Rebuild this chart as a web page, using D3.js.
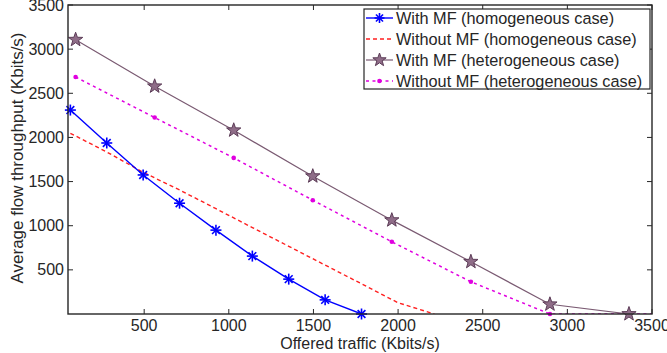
<!DOCTYPE html>
<html><head><meta charset="utf-8">
<script src="https://cdn.jsdelivr.net/npm/d3@7"></script>
<style>body{margin:0;background:#fff}</style></head>
<body><svg id="c" width="667" height="353"></svg>
<script>
// ---- data ----
const homX = [64,279,494,709,924,1139,1354,1569,1784];
const homWithMF = [2310,1937,1575,1255,950,656,395,160,0];
const homX2 = [64,279,494,709,924,1139,1354,1569,1784,1999,2214];
const homWithoutMF = [2047,1835,1605,1405,1193,979,767,554,342,128,0];
const hetX = [95,562,1029,1496,1963,2430,2897,3364];
const hetWithMF = [3107,2579,2081,1561,1063,592,110,0];
const hetX2 = [95,562,1029,1496,1963,2430,2897,3364,3831];
const hetWithoutMF = [2684,2225,1768,1289,818,365,0,0,0];
const xTicks = [500,1000,1500,2000,2500,3000,3500];
const yTicks = [500,1000,1500,2000,2500,3000,3500];
const legendLabels = ["With MF (homogeneous case)","Without MF (homogeneous case)","With MF (heterogeneous case)","Without MF (heterogeneous case)"];
const xLabel = "Offered traffic (Kbits/s)";
const yLabel = "Average flow throughput (Kbits/s)";

const svg = d3.select("#c");
const L=68, R=652, T=5, B=314;
const x = d3.scaleLinear().domain([50,3500]).range([L,R]);
const y = d3.scaleLinear().domain([0,3500]).range([B,T]);
const font = "'Liberation Sans', Arial, Helvetica, sans-serif";
const fsTick = 16, fsLab = 17, fsLeg = 16.3;

svg.append("defs").append("clipPath").attr("id","clip")
  .append("rect").attr("x",L).attr("y",T).attr("width",R-L).attr("height",B-T);

const C = {blue:"#0000ff", red:"#ff2020", star:"#7a5a72", starFill:"#8f6d88", starEdge:"#5c3c57", mag:"#e000e0"};

const g = svg.append("g").attr("clip-path","url(#clip)");
const line = d3.line().x(d=>x(d[0])).y(d=>y(d[1]));
const zip = (a,b)=>a.map((v,i)=>[v,b[i]]);

const sHomW = zip(homX,homWithMF), sHomWo = zip(homX2,homWithoutMF);
const sHetW = zip(hetX,hetWithMF), sHetWo = zip(hetX2,hetWithoutMF);

g.append("path").attr("d",line(sHomWo)).attr("fill","none").attr("stroke",C.red).attr("stroke-width",1.4).attr("stroke-dasharray","4,3");
g.append("path").attr("d",line(sHetWo)).attr("fill","none").attr("stroke",C.mag).attr("stroke-width",1.5).attr("stroke-dasharray","3,3.5");
g.append("path").attr("d",line(sHetW)).attr("fill","none").attr("stroke",C.star).attr("stroke-width",1.2);
g.append("path").attr("d",line(sHomW)).attr("fill","none").attr("stroke",C.blue).attr("stroke-width",1.4);

function asterisk(sel, cx, cy, r, col){
  const gg = sel.append("g").attr("transform",`translate(${cx},${cy})`);
  [0,45,90,135].forEach(a=>{
    const t=a*Math.PI/180;
    gg.append("line").attr("x1",-r*Math.cos(t)).attr("y1",-r*Math.sin(t)).attr("x2",r*Math.cos(t)).attr("y2",r*Math.sin(t))
      .attr("stroke",col).attr("stroke-width",1.6);
  });
}
function starPath(r){
  const pts=[];
  for(let i=0;i<10;i++){
    const rr = i%2===0 ? r : r*0.4;
    const a = -Math.PI/2 + i*Math.PI/5;
    pts.push([rr*Math.cos(a), rr*Math.sin(a)]);
  }
  return "M"+pts.map(p=>p.join(",")).join("L")+"Z";
}
function star(sel,cx,cy,r){
  sel.append("path").attr("d",starPath(r)).attr("transform",`translate(${cx},${cy})`)
    .attr("fill",C.starFill).attr("stroke",C.starEdge).attr("stroke-width",1);
}
function dot(sel,cx,cy){
  sel.append("circle").attr("cx",cx).attr("cy",cy).attr("r",2.3).attr("fill",C.mag);
}

const m = svg.append("g");
sHetWo.forEach(d=>{ if(d[0]<=3500) dot(m,x(d[0]),y(d[1])); });
sHetW.forEach(d=>star(m,x(d[0]),y(d[1]),7.5));
sHomW.forEach(d=>asterisk(m,x(d[0]),y(d[1]),5.5,C.blue));

// frame and ticks
const ax = svg.append("g");
ax.append("rect").attr("x",L).attr("y",T).attr("width",R-L).attr("height",B-T)
  .attr("fill","none").attr("stroke","#262626").attr("stroke-width",1.4);
const tl=5;
xTicks.forEach(v=>{
  ax.append("line").attr("x1",x(v)).attr("x2",x(v)).attr("y1",B).attr("y2",B-tl).attr("stroke","#262626");
  ax.append("line").attr("x1",x(v)).attr("x2",x(v)).attr("y1",T).attr("y2",T+tl).attr("stroke","#262626");
  ax.append("text").attr("x",x(v)).attr("y",B+17).attr("text-anchor","middle")
    .attr("font-family",font).attr("font-size",fsTick).attr("fill","#262626").text(v);
});
yTicks.forEach(v=>{
  ax.append("line").attr("x1",L).attr("x2",L+tl).attr("y1",y(v)).attr("y2",y(v)).attr("stroke","#262626");
  ax.append("line").attr("x1",R).attr("x2",R-tl).attr("y1",y(v)).attr("y2",y(v)).attr("stroke","#262626");
  ax.append("text").attr("x",L-4).attr("y",y(v)+5.5).attr("text-anchor","end")
    .attr("font-family",font).attr("font-size",fsTick).attr("fill","#262626").text(v);
});
ax.append("text").attr("x",360).attr("y",349).attr("text-anchor","middle")
  .attr("font-family",font).attr("font-size",16).attr("fill","#262626").text(xLabel);
ax.append("text").attr("transform",`translate(22.5,158) rotate(-90)`).attr("text-anchor","middle")
  .attr("font-family",font).attr("font-size",fsLab).attr("fill","#262626").text(yLabel);

// legend
const lg = svg.append("g");
lg.append("rect").attr("x",364).attr("y",9).attr("width",286).attr("height",80)
  .attr("fill","#fff").attr("stroke","#262626").attr("stroke-width",1.2);
legendLabels.forEach((t,i)=>{
  const cy = 18 + i*21, x1=366, x2=393, xm=(x1+x2)/2;
  const ln = lg.append("line").attr("x1",x1).attr("x2",x2).attr("y1",cy).attr("y2",cy);
  if(i===0){ ln.attr("stroke",C.blue).attr("stroke-width",1.4); asterisk(lg,xm,cy,5,C.blue); }
  if(i===1){ ln.attr("stroke",C.red).attr("stroke-width",1.4).attr("stroke-dasharray","4,3"); }
  if(i===2){ ln.attr("stroke",C.star).attr("stroke-width",1.2); star(lg,xm,cy,7); }
  if(i===3){ ln.attr("stroke",C.mag).attr("stroke-width",1.5).attr("stroke-dasharray","3,3.5"); dot(lg,xm,cy); }
  lg.append("text").attr("x",396).attr("y",cy+5.5).attr("font-family",font).attr("font-size",fsLeg)
    .attr("fill","#262626").text(t);
});
</script></body></html>
